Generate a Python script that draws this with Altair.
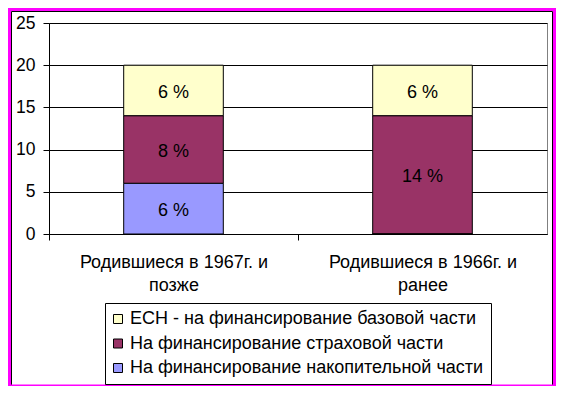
import altair as alt
import pandas as pd

categories = ["Родившиеся в 1967г. и|позже", "Родившиеся в 1966г. и|ранее"]
series = [
    "ЕСН - на финансирование базовой части",
    "На финансирование страховой части",
    "На финансирование накопительной части",
]
colors = ["#FFFFCC", "#993366", "#9999FF"]
stack_order = [2, 1, 0]
values_1967 = [6, 8, 6]
values_1966 = [6, 14, 0]
labels_1967 = ["6 %", "8 %", "6 %"]
labels_1966 = ["6 %", "14 %", ""]
y_ticks = [0, 5, 10, 15, 20, 25]
y_domain = [0, 25]

rows = []
for cat, vals, labs in [(categories[0], values_1967, labels_1967), (categories[1], values_1966, labels_1966)]:
    for s, v, lab, o in zip(series, vals, labs, stack_order):
        rows.append({"category": cat, "series": s, "value": v, "label": lab, "order": o})
df = pd.DataFrame(rows)

FONT = "Liberation Sans"

x_scale = alt.Scale(paddingInner=0.6, paddingOuter=0.3)
y_scale = alt.Scale(domain=y_domain, nice=False, zero=True)

x_enc = alt.X(
    "category:N",
    sort=categories,
    scale=x_scale,
    axis=alt.Axis(
        title=None, labelAngle=0, labelExpr="split(datum.label, '|')",
        labelFont=FONT, labelFontSize=18, labelColor="black", labelLineHeight=23,
        labelPadding=13, ticks=True, tickOffset=-124.5, labelOffset=124.5,
        tickColor="black", tickSize=6,
        domainColor="black", grid=False, labelLimit=300,
    ),
)

bars = alt.Chart(df).mark_bar(stroke="black", strokeWidth=1).encode(
    x=x_enc,
    y=alt.Y(
        "value:Q",
        stack="zero",
        scale=y_scale,
        axis=alt.Axis(
            title=None, values=y_ticks, grid=True, gridColor="black", gridWidth=1,
            domainColor="black", tickColor="black", tickSize=6, labelPadding=8,
            labelFont=FONT, labelFontSize=17.5, labelColor="black",
        ),
    ),
    color=alt.Color(
        "series:N",
        scale=alt.Scale(domain=series, range=colors),
        legend=alt.Legend(
            title=None, orient="none", legendX=56, legendY=280,
            strokeColor="black", padding=7, symbolType="square", symbolSize=81,
            symbolStrokeColor="black", symbolStrokeWidth=1, symbolOpacity=1,
            symbolOffset=-3,
            labelFont=FONT, labelFontSize=18, labelColor="black",
            rowPadding=6.5, labelOffset=3, labelLimit=450,
        ),
    ),
    order=alt.Order("order:Q", sort="ascending"),
)

texts = alt.Chart(df).transform_filter("datum.value > 0").transform_stack(
    stack="value", groupby=["category"], as_=["y0", "y1"],
    sort=[alt.SortField("order", order="ascending")],
).transform_calculate(mid="(datum.y0 + datum.y1) / 2").mark_text(
    font=FONT, fontSize=18, color="black", dy=2
).encode(
    x=alt.X("category:N", sort=categories, scale=x_scale),
    y=alt.Y("mid:Q", scale=y_scale),
    text="label:N",
)

frame_data = alt.Data(values=[{"k": 1}])
inner = alt.Chart(frame_data).mark_rect(filled=False, stroke="black", strokeWidth=1).encode(
    x=alt.value(-37.5), x2=alt.value(503.5), y=alt.value(-11.5), y2=alt.value(363)
)
outer = alt.Chart(frame_data).mark_rect(filled=False, stroke="#FF00FF", strokeWidth=6).encode(
    x=alt.value(-41), x2=alt.value(507), y=alt.value(-15), y2=alt.value(364.5)
)

chart = alt.layer(bars, texts, inner, outer).properties(
    width=498,
    height=211,
    autosize=alt.AutoSizeParams(type="none"),
    padding={"left": 41, "top": 15, "right": 9, "bottom": 152},
    background="white",
).configure_view(stroke="#808080")

chart.save("out.html", embed_options={"renderer": "svg", "actions": False})
